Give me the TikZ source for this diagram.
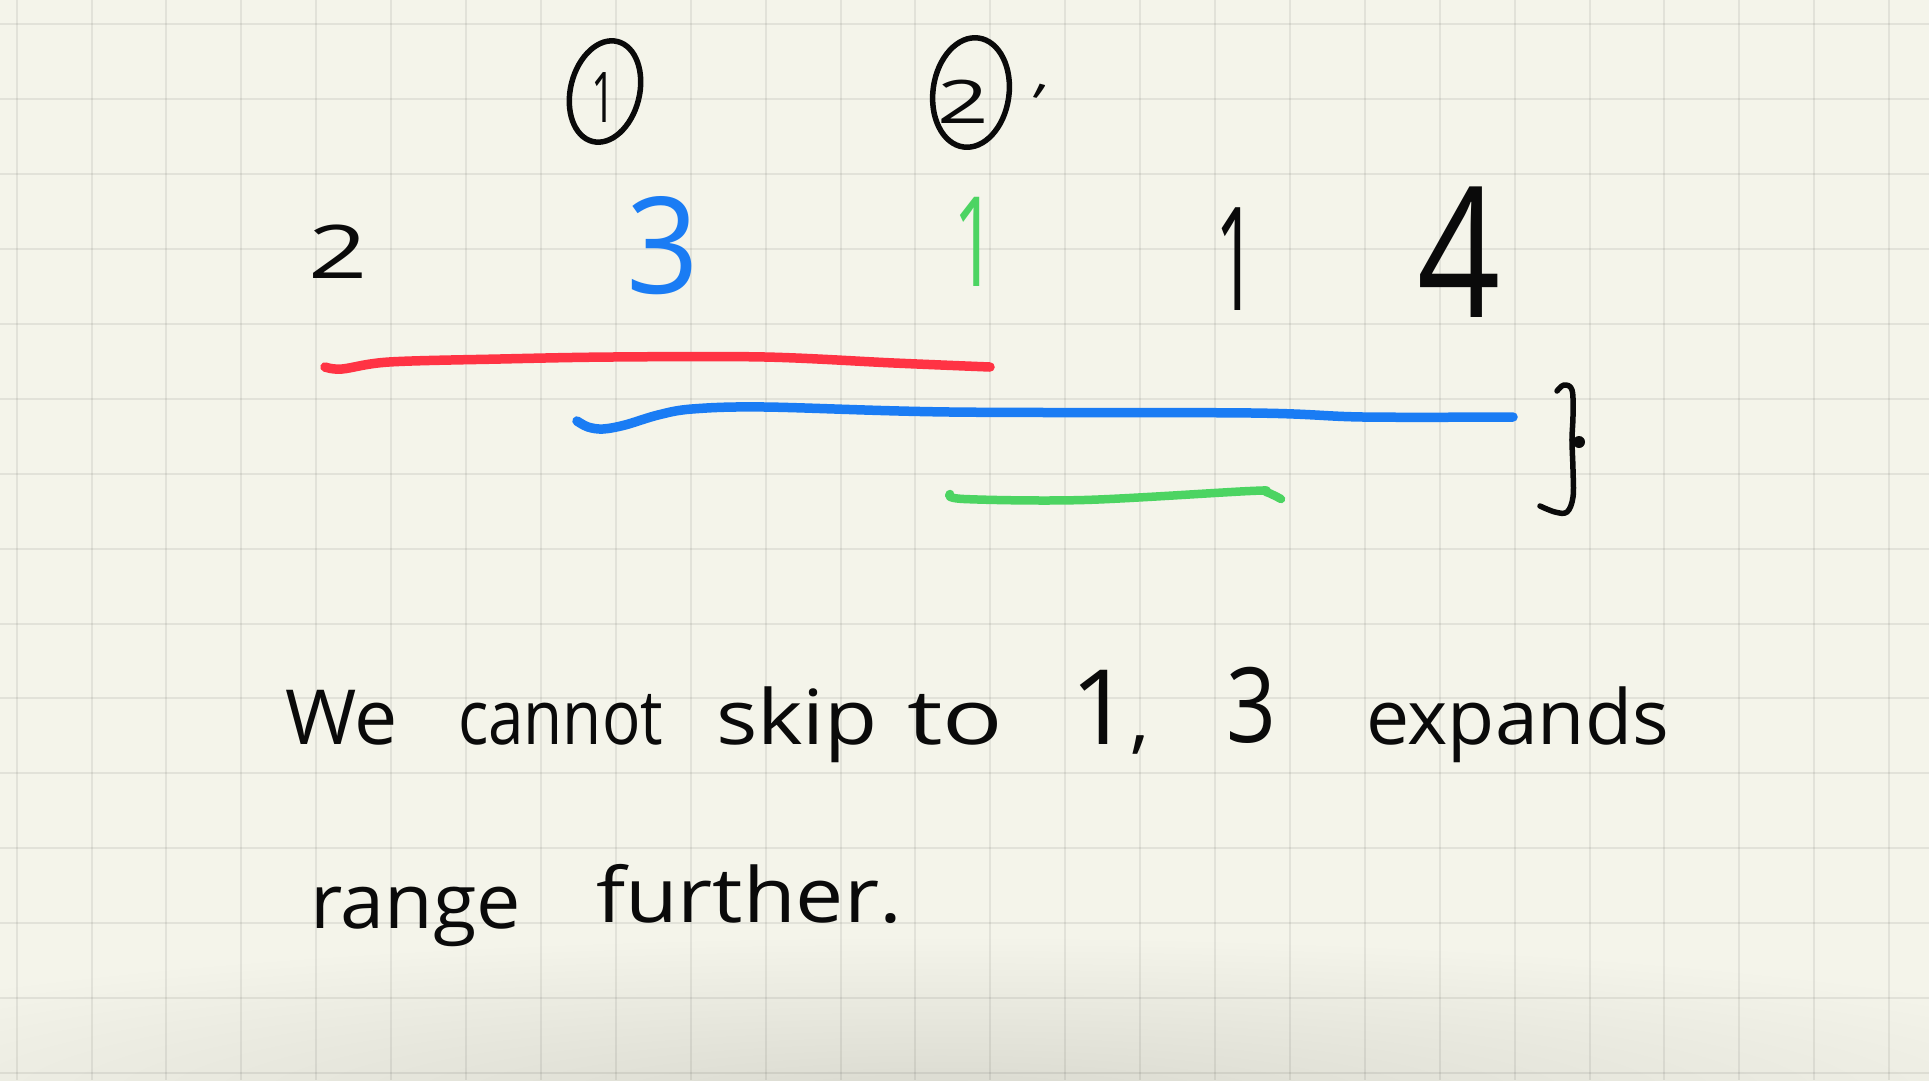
\documentclass[tikz,border=0pt]{standalone}
\usepackage{fontspec}
\usepackage{graphicx}
\setmainfont{Open Sans}
\usetikzlibrary{shapes.geometric}
\definecolor{paper}{HTML}{F4F4EA}
\definecolor{shadowc}{HTML}{DADAD0}
\definecolor{penred}{HTML}{FF3344}
\definecolor{penblue}{HTML}{1A7CF4}
\definecolor{pengreen}{HTML}{4CD462}
\definecolor{ink}{HTML}{0A0A0A}
\newcommand\hw[2]{\resizebox{#1}{\height}{#2}}
\newcommand\fsz[1]{\fontsize{#1}{#1}\selectfont}
\begin{document}
\begin{tikzpicture}[x=1pt,y=-1pt,
  word/.style={anchor=base west, inner sep=0pt, outer sep=0pt, text=ink, font=\fsz{76}},
  digit/.style={anchor=base, inner sep=0pt, outer sep=0pt, text=ink},
  stroke/.style={line width=9.5pt, line cap=round, line join=round},
  gridline/.style={black, opacity=0.07, line width=2pt},
  circ/.style={draw=ink, line width=5.5pt, ellipse, inner sep=0pt}]
\useasboundingbox (0,0) rectangle (1929,1080);
\fill[paper] (0,0) rectangle (1929,1080);
\begin{scope}
\clip (0,0) rectangle (1929,1080);
\shade[inner color=shadowc, outer color=paper] (940,1095) ellipse [x radius=1300, y radius=160];
\end{scope}
\foreach \i in {0,...,25} \draw[gridline] ({16.6+74.9*\i},0) -- ({16.6+74.9*\i},1080);
\foreach \j in {0,...,14} \draw[gridline] (0,{24.3+74.9*\j}) -- (1929,{24.3+74.9*\j});

% circled labels
\node[circ, minimum width=69pt, minimum height=103pt, rotate=-14] (c1) at (605,91.5) {};
\node[digit, font=\fsz{70}] (c1t) at (603,122) {\scalebox{0.6}[1]{1}};
\node[circ, minimum width=76pt, minimum height=110pt, rotate=-8] (c2) at (971,92.5) {};
\node[digit, font=\fsz{60}] (c2t) at (963,123) {\scalebox{1.5}[1]{2}};
\node[digit, font=\fsz{60}, rotate=-15] (c2p) at (1030,126) {'};

% top row numbers
\node[digit, font=\fsz{74}] (n1) at (338.5,278) {\scalebox{1.4}[1]{2}};
\node[digit, font=\fsz{134}, text=penblue] (n2) at (663,293) {\scalebox{0.95}[1]{3}};
\node[digit, font=\fsz{125}, text=pengreen] (n3) at (975,286) {\scalebox{0.6}[1]{1}};
\node[digit, font=\fsz{144}] (n4) at (1236,310) {\scalebox{0.5}[1]{1}};
\node[digit, font=\fsz{182}] (n5) at (1459,317) {\scalebox{0.8}[1]{4}};

% range strokes
\draw[stroke, penred] plot[smooth, tension=0.55] coordinates {(325,367) (342,369) (389,362) (500,359) (612,357) (765,357) (894,363) (990,367)};
\draw[stroke, penblue] plot[smooth, tension=0.55] coordinates {(577,421) (588,427) (603,429) (625,425) (658,415) (692,409) (765,407) (950,412) (1252,413) (1363,417) (1513,417)};
\draw[stroke, pengreen, line width=8.5pt] plot[smooth, tension=0.55] coordinates {(950,494) (964,499) (1084,500) (1250,491) (1266,492) (1281,499)};

% brace
\draw[ink, line width=5.5pt, line cap=round, line join=round] plot[smooth, tension=0.6] coordinates {(1557,391) (1564,385) (1572,390) (1573,415) (1572,440) (1573,470) (1573,497) (1567,512) (1555,512) (1540,506)};
\draw[ink, line width=5.5pt, line cap=round] (1572,440) -- (1580,442);
\fill[ink] (1579,442) circle (6);

% sentence
\node[word] (w1) at (285,744) {\hw{113pt}{We}};
\node[word] (w2) at (458,744) {\hw{205pt}{cannot}};
\node[word] (w3) at (716,744) {\hw{162pt}{skip}};
\node[word] (w4) at (907,744) {\hw{96pt}{to}};
\node[word] (w5) at (1070,744) {\hw{80pt}{{\fsz{104}1}{\fsz{76},}}};
\node[digit, font=\fsz{104}] (w6) at (1251,742) {\scalebox{0.84}[1]{3}};
\node[word] (w7) at (1366,744) {\hw{303pt}{expands}};
\node[word] (w8) at (310,928) {\hw{211pt}{range}};
\node[word] (w9) at (596,922) {\hw{306pt}{further.}};
\end{tikzpicture}
\end{document}
